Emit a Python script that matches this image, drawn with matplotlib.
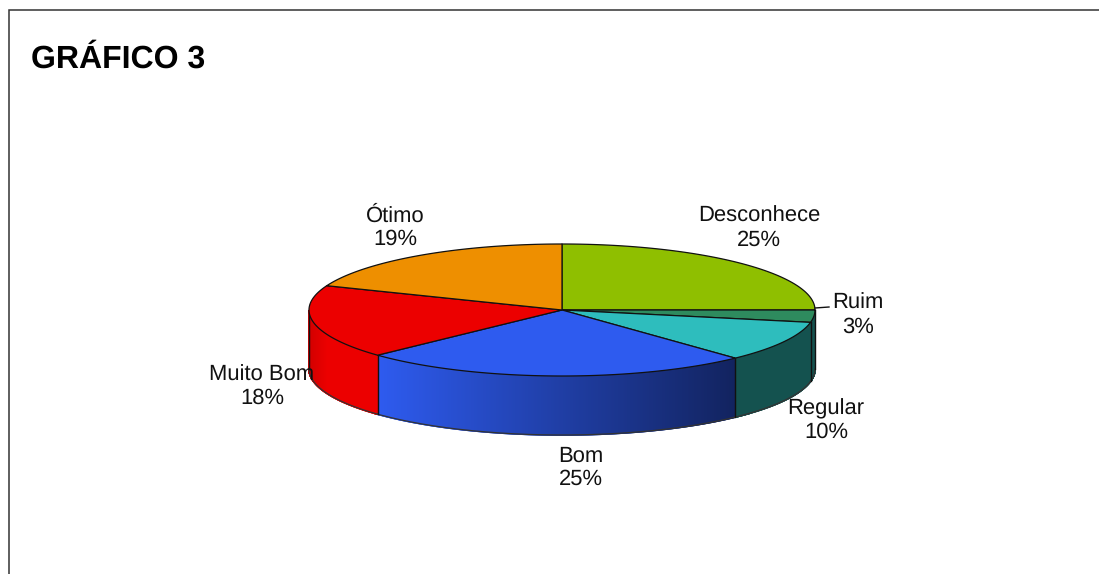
import numpy as np
import matplotlib
matplotlib.use("Agg")
import matplotlib.pyplot as plt
from matplotlib.colors import to_rgb
from matplotlib.patches import Polygon

categories = ["Desconhece", "Ruim", "Regular", "Bom", "Muito Bom", "Ótimo"]
values = [25, 3, 10, 25, 18, 19]
top_colors = ["#8FBF00", "#2E8B5E", "#2EBDBD", "#2E5BEF", "#EC0000", "#EE8F00"]
side_left = ["#8FBF00", "#14524F", "#14524F", "#2E5BEF", "#D40000", "#EE8F00"]
side_right = ["#8FBF00", "#14524F", "#14524F", "#12235F", "#EC0000", "#EE8F00"]
label_pos = [(759, 228), (858, 315), (826, 420.5), (581, 467.5), (262, 386.5), (395, 227.5)]
title = "GRÁFICO 3"

W, H = 1099, 574
cx, cy, rx, ry, depth = 562.0, 310.0, 253.0, 66.0, 59.0

plt.rcParams["font.family"] = ["Liberation Sans", "DejaVu Sans"]
plt.rcParams["text.hinting"] = "no_hinting"
plt.rcParams["text.hinting_factor"] = 1
fig = plt.figure(figsize=(W / 100, H / 100), dpi=100)
ax = fig.add_axes([0, 0, 1, 1])
ax.set_xlim(0, W)
ax.set_ylim(H, 0)
ax.axis("off")

EDGE = "#111111"


def pt(theta, dz=0.0):
    return cx + rx * np.sin(theta), cy - ry * np.cos(theta) + dz


edges = np.concatenate([[0], np.cumsum(values)]) / sum(values) * 2 * np.pi

# side wall: only the front half of the disc is visible
for i in range(len(values)):
    a0, a1 = max(edges[i], np.pi / 2), min(edges[i + 1], 3 * np.pi / 2)
    if a1 <= a0:
        continue
    ts = np.linspace(a0, a1, 360)
    x0 = pt(a1)[0]
    x1 = pt(a0)[0]
    cL, cR = np.array(to_rgb(side_left[i])), np.array(to_rgb(side_right[i]))
    for t0, t1 in zip(ts[:-1], ts[1:]):
        xm = pt((t0 + t1) / 2)[0]
        f = (xm - x0) / max(x1 - x0, 1e-6)
        if categories[i] == "Muito Bom":
            f = min(1, f * 4)
        col = cL + (cR - cL) * f
        poly = [pt(t0), pt(t1), pt(t1, depth), pt(t0, depth)]
        ax.add_patch(Polygon(poly, closed=True, fc=col, ec=col, lw=1.2, zorder=2))
    outline = [pt(t, depth) for t in ts]
    ax.plot(*zip(*outline), color="#333333", lw=0.9, zorder=3)
    if a0 > np.pi / 2 + 1e-6:
        ax.plot(*zip(pt(a0), pt(a0, depth)), color=EDGE, lw=1.0, zorder=3)

# outer verticals of the wall
for a in (np.pi / 2, 3 * np.pi / 2):
    ax.plot(*zip(pt(a), pt(a, depth)), color=EDGE, lw=1.0, zorder=3)

# top face
for i in range(len(values)):
    ts = np.linspace(edges[i], edges[i + 1], 160)
    poly = [(cx, cy)] + [pt(t) for t in ts]
    ax.add_patch(Polygon(poly, closed=True, fc=top_colors[i], ec=EDGE, lw=0.9,
                         joinstyle="round", zorder=4))

# leader of the small slice
ax.plot([pt(np.pi / 2)[0], pt(np.pi / 2)[0] + 14], [cy - 2, cy - 3], color=EDGE, lw=1.0, zorder=5)

for name, v, (x, y) in zip(categories, values, label_pos):
    ax.text(x, y, f"{name}\n{v}%", ha="center", va="center", fontsize=15.7,
            color="#111111", linespacing=1.2, zorder=6)

ax.text(31, 59.5, title, ha="left", va="center", fontsize=22.9, fontweight="bold",
        color="#000000", zorder=6)

# frame (top and left only reach the canvas)
ax.plot([9.2, 9.2, W], [H, 10, 10], color="#333333", lw=1.1, zorder=1, solid_joinstyle="miter")

fig.savefig("out.png", dpi=100)
